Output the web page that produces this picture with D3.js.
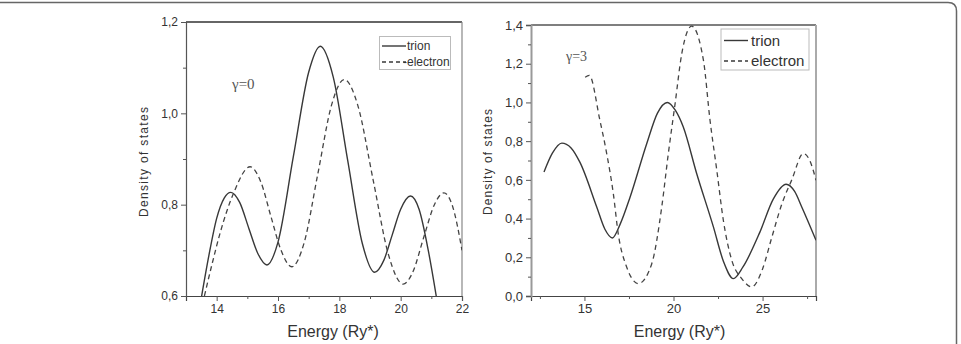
<!DOCTYPE html>
<html>
<head>
<meta charset="utf-8">
<script src="https://cdn.jsdelivr.net/npm/d3@7/dist/d3.min.js"></script>
<style>
  html, body { margin: 0; padding: 0; background: #fff; }
  svg { display: block; font-family: "Liberation Sans", Arial, sans-serif; }
</style>
</head>
<body>
<div id="chart"></div>
<script>
// left panel, gamma = 0
const trion0 = [
  [13.51, 0.600], [13.75, 0.690], [14.0, 0.770], [14.25, 0.815], [14.46, 0.827],
  [14.75, 0.805], [15.05, 0.748], [15.35, 0.692], [15.64, 0.668], [16.0, 0.718],
  [16.5, 0.905], [17.0, 1.090], [17.38, 1.147], [17.8, 1.080], [18.27, 0.898],
  [18.75, 0.715], [19.15, 0.652], [19.45, 0.678], [19.73, 0.735], [20.0, 0.790],
  [20.32, 0.819], [20.6, 0.790], [20.9, 0.700], [21.16, 0.600]
];
const electron0 = [
  [13.60, 0.600], [13.85, 0.670], [14.1, 0.735], [14.55, 0.825], [15.09, 0.883],
  [15.45, 0.848], [15.77, 0.774], [16.1, 0.700], [16.45, 0.664], [16.85, 0.716],
  [17.3, 0.868], [17.75, 1.019], [18.16, 1.074], [18.6, 1.018], [19.1, 0.855],
  [19.6, 0.691], [20.08, 0.626], [20.4, 0.653], [20.75, 0.728], [21.1, 0.800],
  [21.41, 0.826], [21.7, 0.795], [22.0, 0.700]
];
// right panel, gamma = 3
const trion3 = [
  [12.73, 0.641], [13.2, 0.738], [13.73, 0.790], [14.25, 0.765], [14.75, 0.690],
  [15.69, 0.460], [16.15, 0.345], [16.57, 0.300], [17.0, 0.370], [17.56, 0.510],
  [18.5, 0.788], [19.1, 0.945], [19.65, 1.000], [20.1, 0.960], [20.55, 0.873],
  [21.3, 0.633], [22.24, 0.357], [22.8, 0.180], [23.36, 0.090], [23.9, 0.150],
  [24.85, 0.330], [25.6, 0.500], [26.32, 0.577], [26.8, 0.540], [27.2, 0.460],
  [28.0, 0.288]
];
const electron3 = [
  [15.04, 1.130], [15.27, 1.140], [15.87, 0.907], [16.25, 0.736], [16.62, 0.530],
  [16.9, 0.320], [17.37, 0.150], [18.03, 0.064], [18.78, 0.167], [19.34, 0.460],
  [19.71, 0.736], [20.09, 0.994], [20.46, 1.250], [21.02, 1.394], [21.68, 1.218],
  [22.05, 0.908], [22.43, 0.650], [22.8, 0.390], [23.27, 0.185], [23.83, 0.090],
  [24.39, 0.047], [25.0, 0.140], [25.51, 0.300], [26.1, 0.480], [26.64, 0.600],
  [27.29, 0.736], [27.65, 0.700], [28.0, 0.598]
];

const xTicks0 = [14, 16, 18, 20, 22], xMinor0 = [15, 17, 19, 21];
const yTicks0 = [0.6, 0.8, 1.0, 1.2], yMinor0 = [0.7, 0.9, 1.1];
const xTicks3 = [15, 20, 25], xMinor3 = [12.5, 17.5, 22.5, 27.5];
const yTicks3 = [0, 0.2, 0.4, 0.6, 0.8, 1.0, 1.2, 1.4], yMinor3 = [0.1, 0.3, 0.5, 0.7, 0.9, 1.1, 1.3];
const seriesNames = ["trion", "electron"];

const width = 961, height = 344;
const svg = d3.select("#chart").append("svg")
  .attr("width", width)
  .attr("height", height);

// outer card frame (only top and right edges visible)
svg.append("path")
  .attr("d", "M-5,2.5 H948 Q956.5,2.5 956.5,11 V350")
  .attr("fill", "none")
  .attr("stroke", "#666")
  .attr("stroke-width", 1.5);

const comma = d => d3.format(".1f")(d).replace(".", ",");

function panel(opts) {
  const { x0, x1, y0, y1, xDomain, yDomain, xTicks, xMinor, yTicks, yMinor,
    xFmt, fontSize, trion, electron, dash } = opts;
  const x = d3.scaleLinear().domain(xDomain).range([x0, x1]);
  const y = d3.scaleLinear().domain(yDomain).range([y1, y0]);
  const g = svg.append("g");

  // frame
  g.append("line").attr("x1", x0).attr("x2", x1).attr("y1", y0).attr("y2", y0)
    .attr("stroke", opts.topColor).attr("stroke-width", 1.5);
  g.append("line").attr("x1", x1).attr("x2", x1).attr("y1", y0).attr("y2", y1)
    .attr("stroke", opts.rightColor).attr("stroke-width", opts.rightWidth);

  const xAxis = g.append("g").attr("transform", `translate(0,${y1})`)
    .call(d3.axisBottom(x).tickValues(xTicks).tickFormat(xFmt).tickSize(5).tickPadding(3));
  g.append("g").attr("transform", `translate(0,${y1})`)
    .call(d3.axisBottom(x).tickValues(xMinor).tickFormat("").tickSize(3))
    .select(".domain").remove();
  const yAxis = g.append("g").attr("transform", `translate(${x0},0)`)
    .call(d3.axisLeft(y).tickValues(yTicks).tickFormat(comma).tickSize(5).tickPadding(3));
  g.append("g").attr("transform", `translate(${x0},0)`)
    .call(d3.axisLeft(y).tickValues(yMinor).tickFormat("").tickSize(3))
    .select(".domain").remove();

  g.selectAll(".tick line").attr("stroke", "#555");
  xAxis.select(".domain").attr("stroke", "#444").attr("stroke-width", 1.2);
  yAxis.select(".domain").attr("stroke", opts.leftColor).attr("stroke-width", opts.leftWidth);
  g.selectAll(".tick text").attr("font-size", fontSize).attr("fill", "#333")
    .attr("font-family", "Liberation Sans, Arial, sans-serif");

  const clip = "clip" + x0;
  svg.append("clipPath").attr("id", clip).append("rect")
    .attr("x", x0).attr("y", y0).attr("width", x1 - x0).attr("height", y1 - y0);

  const line = d3.line().x(d => x(d[0])).y(d => y(d[1])).curve(d3.curveMonotoneX);
  const plot = g.append("g").attr("clip-path", `url(#${clip})`);
  plot.append("path").datum(trion).attr("d", line)
    .attr("fill", "none").attr("stroke", "#383838").attr("stroke-width", 1.4);
  plot.append("path").datum(electron).attr("d", line)
    .attr("fill", "none").attr("stroke", "#444").attr("stroke-width", 1.3)
    .attr("stroke-dasharray", dash);

  // axis titles
  g.append("text").attr("x", (x0 + x1) / 2 + opts.xTitleShift).attr("y", 337)
    .attr("text-anchor", "middle").attr("font-size", 16).attr("fill", "#333")
    .text("Energy (Ry*)");
  g.append("text")
    .attr("transform", `translate(${opts.yTitleX},${opts.yTitleY}) rotate(-90)`)
    .attr("text-anchor", "middle").attr("font-size", 12).attr("fill", "#333")
    .attr("textLength", opts.yTitleLen).attr("lengthAdjust", "spacing")
    .text("Density  of states");

  // gamma note
  g.append("text").attr("x", opts.noteX).attr("y", opts.noteY)
    .attr("font-family", "Liberation Serif, Times New Roman, serif")
    .attr("font-size", opts.noteSize).attr("fill", "#555")
    .text(opts.note);

  // legend
  const L = opts.legend;
  g.append("rect").attr("x", L.x).attr("y", L.y).attr("width", L.w).attr("height", L.h)
    .attr("fill", "#fff").attr("stroke", "#bbb").attr("stroke-width", 1);
  seriesNames.forEach((name, i) => {
    const ly = L.rows[i];
    g.append("line").attr("x1", L.lx0).attr("x2", L.lx1).attr("y1", ly).attr("y2", ly)
      .attr("stroke", "#383838").attr("stroke-width", 1.4)
      .attr("stroke-dasharray", i === 1 ? "4,3" : null);
    g.append("text").attr("x", L.tx[i]).attr("y", ly).attr("dy", "0.35em")
      .attr("font-size", L.fs).attr("fill", "#333")
      .text(i === 1 ? L.electronLabel : name);
  });
}

panel({
  x0: 186, x1: 462, y0: 22, y1: 296,
  xDomain: [13, 22], yDomain: [0.6, 1.2],
  xTicks: xTicks0, xMinor: xMinor0, yTicks: yTicks0, yMinor: yMinor0,
  xFmt: d3.format("d"), fontSize: 12,
  trion: trion0, electron: electron0, dash: "5,3.5",
  topColor: "#333", rightColor: "#888", rightWidth: 1.2,
  leftColor: "#555", leftWidth: 1.2,
  xTitleShift: 9, yTitleX: 148, yTitleY: 162, yTitleLen: 110,
  note: "γ=0", noteX: 232, noteY: 89, noteSize: 15,
  legend: { x: 379.5, y: 36.5, w: 71, h: 33, lx0: 382, lx1: 406, rows: [46, 62],
    tx: [407, 403], fs: 12, electronLabel: "-electron" }
});

panel({
  x0: 531, x1: 816, y0: 25, y1: 296,
  xDomain: [12, 28], yDomain: [0, 1.4],
  xTicks: xTicks3, xMinor: xMinor3, yTicks: yTicks3, yMinor: yMinor3,
  xFmt: d3.format("d"), fontSize: 13,
  trion: trion3, electron: electron3, dash: "5,4",
  topColor: "#555", rightColor: "#aaa", rightWidth: 2,
  leftColor: "#999", leftWidth: 2,
  xTitleShift: 6, yTitleX: 492, yTitleY: 162, yTitleLen: 106,
  note: "γ=3", noteX: 566, noteY: 61, noteSize: 14,
  legend: { x: 721, y: 29, w: 88, h: 41, lx0: 724, lx1: 748, rows: [40.5, 61],
    tx: [751, 751], fs: 15, electronLabel: "electron" }
});
</script>
</body>
</html>
